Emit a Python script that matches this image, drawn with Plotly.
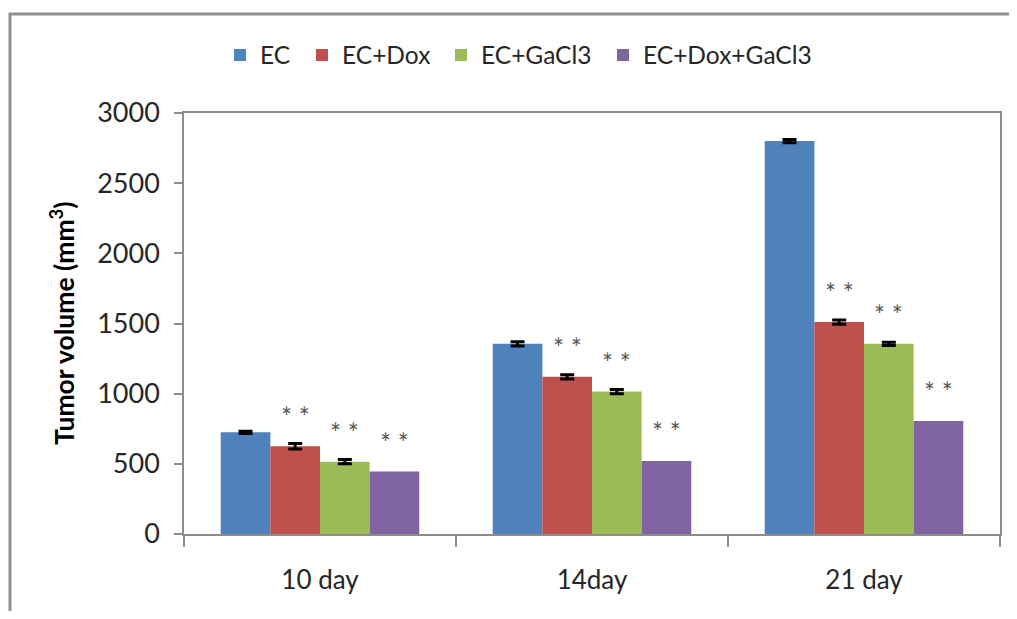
import plotly.graph_objects as go

categories = ["10 day", "14day", "21 day"]
series_names = ["EC", "EC+Dox", "EC+GaCl3", "EC+Dox+GaCl3"]
ec = [725, 1355, 2800]
ec_dox = [625, 1120, 1510]
ec_gacl3 = [515, 1015, 1355]
ec_dox_gacl3 = [445, 520, 805]
ec_err = [8, 15, 12]
ec_dox_err = [20, 15, 15]
ec_gacl3_err = [15, 15, 12]
ec_dox_gacl3_err = [0, 0, 0]
colors = ["#4F81BD", "#C0504D", "#9BBB59", "#8064A2"]
# significance markers: (series index, category index)
sig_marks = [(1, 0), (2, 0), (3, 0), (1, 1), (2, 1), (3, 1), (1, 2), (2, 2), (3, 2)]

values = [ec, ec_dox, ec_gacl3, ec_dox_gacl3]
errors = [ec_err, ec_dox_err, ec_gacl3_err, ec_dox_gacl3_err]

FONT = "Lato"
# page body has an 8px margin; figure is sized to fit inside the window
OFF = 8
W, H = 1017 - 2 * OFF, 619 - 2 * OFF
PL, PR, PT, PB = 184, 1000, 113, 534          # plot area in window pixels
L, R, T, B = PL - OFF, W - (PR - OFF), PT - OFF, H - (PB - OFF)
pw, ph = PR - PL, PB - PT


def xp(X):
    return (X - PL) / pw


def yp(Y):
    return (PB - Y) / ph


fig = go.Figure()
legend_ids = ["legend", "legend2", "legend3", "legend4"]
legend_left = [220, 302, 441, 603]
for i, name in enumerate(series_names):
    show_err = i < 3
    fig.add_trace(go.Bar(
        x=categories, y=values[i], name=name, legend=legend_ids[i],
        marker=dict(color=colors[i], line=dict(width=0)),
        error_y=dict(type="data", array=errors[i], visible=show_err,
                     color="black", thickness=3, width=7),
    ))

bargap = 0.27
bw = (1 - bargap) / 4
offsets = [(-1.5 + k) * bw for k in range(4)]
annotations = []
for (s, c) in sig_marks:
    annotations.append(dict(
        x=c + offsets[s], y=values[s][c], xref="x", yref="y",
        text="* *", showarrow=False, yanchor="middle", yshift=29,
        font=dict(family=FONT, size=26, color="#555555"),
    ))

annotations.append(dict(
    x=xp(62), y=yp(323), xref="paper", yref="paper",
    text="<b>Tumor volume (mm<sup>3</sup>)</b>", textangle=-90, showarrow=False,
    xanchor="center", yanchor="middle",
    font=dict(family=FONT, size=26.5, color="#000000"),
))

frame = dict(type="rect", xref="paper", yref="paper",
             x0=xp(10), x1=xp(1040), y0=yp(660), y1=yp(14),
             line=dict(color="#909090", width=3), layer="below")

layout_legends = {}
for i, lid in enumerate(legend_ids):
    layout_legends[lid] = dict(
        orientation="h", x=xp(legend_left[i]), xanchor="left",
        y=yp(55), yanchor="middle", bgcolor="rgba(0,0,0,0)",
        font=dict(family=FONT, size=24.5, color="#262626"),
        itemwidth=30,
    )

fig.update_layout(
    width=W, height=H,
    margin=dict(l=L, r=R, t=T, b=B, autoexpand=False),
    paper_bgcolor="white", plot_bgcolor="white",
    barmode="group", bargap=bargap, bargroupgap=0,
    font=dict(family=FONT, size=24, color="#262626"),
    showlegend=True,
    annotations=annotations,
    shapes=[frame],
    **layout_legends,
)
fig.update_xaxes(
    type="category", showline=True, linecolor="#8c8c8c", linewidth=1.5,
    mirror=True, ticks="outside", tickson="boundaries", ticklen=11,
    tickcolor="#8c8c8c", tickwidth=1.5, showgrid=False,
    tickfont=dict(family=FONT, size=26, color="#262626"),
    ticklabelstandoff=22,
)
fig.update_yaxes(
    range=[0, 3000], dtick=500, showline=True, linecolor="#8c8c8c",
    linewidth=1.5, mirror=True, ticks="outside", ticklen=8,
    tickcolor="#8c8c8c", tickwidth=1.5, showgrid=False, zeroline=False,
    tickfont=dict(family=FONT, size=27, color="#262626"),
    ticklabelstandoff=9,
)

fig.write_html("out.html")
